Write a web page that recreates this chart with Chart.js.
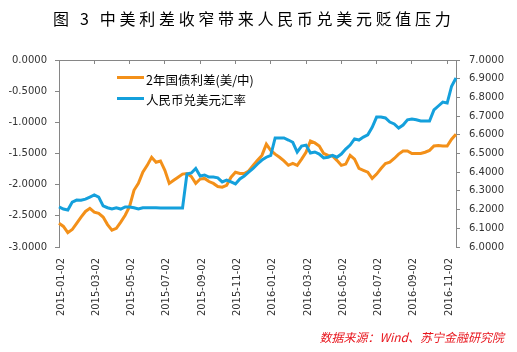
<!DOCTYPE html>
<html>
<head>
<meta charset="utf-8">
<script src="https://cdn.jsdelivr.net/npm/chart.js"></script>
<style>
  body { margin: 0; background: #fff; }
  #contenedor { position: relative; width: 517px; height: 352px; }
  #titulo { position: absolute; left: 53px; top: 6px; white-space: nowrap;
            font: 16px "Noto Sans CJK SC"; letter-spacing: 3.7px; color: #000; }
  .linea { position: absolute; left: 117px; width: 27px; height: 3px; }
  .texto { position: absolute; left: 146px; white-space: nowrap; line-height: 16px;
           font: 12.5px "Noto Sans CJK SC"; color: #000; }
  #fuente { position: absolute; right: 13px; top: 328px; white-space: nowrap;
            font: italic 12px "Noto Sans CJK SC"; color: #e8161e; }
</style>
</head>
<body>
<div id="contenedor">
  <canvas id="grafico" width="517" height="352"></canvas>
  <div id="titulo">图 3 中美利差收窄带来人民币兑美元贬值压力</div>
  <div class="linea" style="top:76px; background:#f39019"></div>
  <div class="texto" style="top:70px">2年国债利差(美/中)</div>
  <div class="linea" style="top:97px; background:#14a0dc"></div>
  <div class="texto" style="top:90px">人民币兑美元汇率</div>
  <div id="fuente">数据来源：Wind、苏宁金融研究院</div>
</div>
<script>
// etiquetas del eje X (cada 8 puntos semanales)
const fechasEje = ["2015-01-02", "2015-03-02", "2015-05-02", "2015-07-02", "2015-09-02", "2015-11-02",
                   "2016-01-02", "2016-03-02", "2016-05-02", "2016-07-02", "2016-09-02", "2016-11-02"];
const puntosPorMarca = 8;

// diferencial de bonos a 2 años (EEUU - China), eje izquierdo
const diferencialBonos = [
  -2.62, -2.67, -2.77, -2.72, -2.62, -2.52, -2.43, -2.38, -2.44, -2.46,
  -2.52, -2.64, -2.73, -2.70, -2.60, -2.49, -2.35, -2.09, -1.98, -1.80,
  -1.69, -1.56, -1.64, -1.62, -1.77, -1.98, -1.93, -1.88, -1.83, -1.82,
  -1.87, -1.98, -1.91, -1.90, -1.95, -1.98, -2.03, -2.04, -2.01, -1.88,
  -1.80, -1.82, -1.82, -1.78, -1.69, -1.61, -1.53, -1.35, -1.45, -1.51,
  -1.56, -1.62, -1.69, -1.66, -1.69, -1.59, -1.48, -1.30, -1.33, -1.38,
  -1.50, -1.53, -1.54, -1.61, -1.69, -1.67, -1.53, -1.59, -1.74, -1.77,
  -1.80, -1.90, -1.83, -1.74, -1.66, -1.64, -1.58, -1.51, -1.46, -1.46,
  -1.50, -1.50, -1.50, -1.48, -1.45, -1.38, -1.37, -1.38, -1.38, -1.27,
  -1.19
];

// tipo de cambio USD/CNY, eje derecho
const tipoCambio = [
  6.214, 6.203, 6.198, 6.240, 6.251, 6.250, 6.256, 6.267, 6.278, 6.267,
  6.220, 6.210, 6.203, 6.210, 6.203, 6.214, 6.214, 6.210, 6.203, 6.210,
  6.210, 6.210, 6.210, 6.208, 6.208, 6.208, 6.208, 6.208, 6.208, 6.390,
  6.396, 6.420, 6.380, 6.385, 6.374, 6.374, 6.370, 6.348, 6.358, 6.348,
  6.337, 6.364, 6.380, 6.400, 6.420, 6.444, 6.465, 6.480, 6.490, 6.583,
  6.583, 6.583, 6.572, 6.560, 6.508, 6.540, 6.545, 6.503, 6.508, 6.497,
  6.476, 6.480, 6.490, 6.480, 6.497, 6.524, 6.545, 6.578, 6.572, 6.588,
  6.600, 6.640, 6.695, 6.695, 6.690, 6.668, 6.658, 6.636, 6.652, 6.680,
  6.684, 6.680, 6.674, 6.674, 6.674, 6.733, 6.754, 6.775, 6.770, 6.860,
  6.904
];

// solo se muestra la fecha en las posiciones de marca
const categorias = diferencialBonos.map((v, i) => i % puntosPorMarca === 0 ? fechasEje[i / puntosPorMarca] : "");

const gris = "#868686";
const fuenteEjes = { family: "DejaVu Sans", size: 10 };
const colorTexto = "#333";

new Chart(document.getElementById("grafico"), {
  type: "line",
  data: {
    labels: categorias,
    datasets: [{
      label: "2年国债利差(美/中)",
      data: diferencialBonos,
      yAxisID: "y",
      borderColor: "#f39019",
      borderWidth: 3,
      pointRadius: 0,
      order: 1
    }, {
      label: "人民币兑美元汇率",
      data: tipoCambio,
      yAxisID: "y1",
      borderColor: "#14a0dc",
      borderWidth: 3,
      pointRadius: 0,
      order: 0
    }]
  },
  options: {
    responsive: false,
    animation: false,
    devicePixelRatio: 1,
    layout: { padding: { top: 50, bottom: 25, left: 0, right: 0 } },
    plugins: { legend: { display: false }, tooltip: { enabled: false } },
    scales: {
      x: {
        position: "bottom",
        grid: { display: false, drawTicks: false },
        border: { display: false },
        ticks: { autoSkip: false, minRotation: 90, maxRotation: 90, padding: 11, labelOffset: 2,
                 font: fuenteEjes, color: colorTexto },
        afterFit: (s) => { s.height = 80; }
      },
      xArriba: {
        type: "category",
        position: "top",
        offset: false,
        grid: {
          drawOnChartArea: false,
          tickLength: -4,
          color: (ctx) => ctx.index % puntosPorMarca === 0 ? gris : "rgba(0,0,0,0)"
        },
        border: { display: true, color: gris },
        ticks: { display: false, autoSkip: false },
        afterFit: (s) => { s.height = 10; }
      },
      y: {
        position: "left",
        min: -3,
        max: 0,
        ticks: { stepSize: 0.5, padding: 8, font: fuenteEjes, color: colorTexto,
                 callback: (v) => Number(v).toFixed(4) },
        grid: { drawOnChartArea: false, tickLength: 4, color: gris },
        border: { color: gris },
        afterFit: (s) => { s.width = 59; }
      },
      y1: {
        position: "right",
        min: 6,
        max: 7,
        ticks: { stepSize: 0.1, padding: 9, font: fuenteEjes, color: colorTexto,
                 callback: (v) => Number(v).toFixed(4) },
        grid: { drawOnChartArea: false, tickLength: 4, color: gris },
        border: { color: gris },
        afterFit: (s) => { s.width = 61; }
      }
    }
  }
});
</script>
</body>
</html>
